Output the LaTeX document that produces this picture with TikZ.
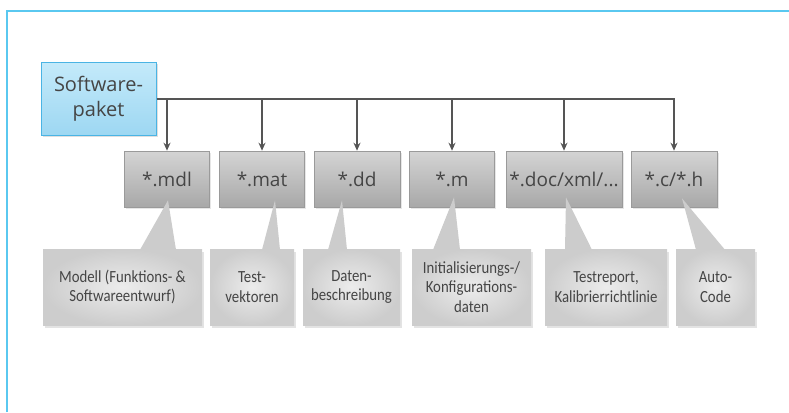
\documentclass[tikz,border=0pt]{standalone}
\usepackage{fontspec}
\setmainfont{Carlito}
\newfontfamily\lblfont[FakeStretch=0.87]{Carlito}
\newfontfamily\filefont{Open Sans}
\usetikzlibrary{shadows,arrows.meta,calc}
\definecolor{frameblue}{HTML}{5AC8F0}
\definecolor{swtop}{HTML}{C4EAFA}
\definecolor{swbot}{HTML}{9DD7F2}
\definecolor{swborder}{HTML}{4AB4E4}
\definecolor{filetop}{HTML}{D4D4D4}
\definecolor{filebot}{HTML}{A8A8A8}
\definecolor{fileborder}{HTML}{9A9A9A}
\definecolor{lblin}{HTML}{ECECEC}
\definecolor{lblout}{HTML}{CDCDCD}
\definecolor{ptrgray}{HTML}{CCCCCC}
\definecolor{txtgray}{HTML}{454545}
\definecolor{arrgray}{HTML}{555555}
\tikzset{
  swbox/.style={draw=swborder, line width=1pt, top color=swtop, bottom color=swbot,
    minimum width=115pt, minimum height=73pt, inner sep=0pt, align=center,
    font=\filefont\fontsize{20}{25}\selectfont, text=txtgray,
    drop shadow={opacity=0.25, shadow xshift=1.5pt, shadow yshift=-1.5pt}},
  filebox/.style={draw=fileborder, line width=0.6pt, top color=filetop, bottom color=filebot,
    minimum height=56pt, inner sep=0pt,
    font=\filefont\fontsize{19}{23}\selectfont, text=txtgray,
    drop shadow={opacity=0.2, shadow xshift=1.5pt, shadow yshift=-1.5pt}},
  lblbox/.style={inner color=lblin, outer color=lblout,
    minimum height=76pt, inner sep=0pt, align=center,
    font=\lblfont\fontsize{17}{19.5}\selectfont, text=txtgray,
    drop shadow={opacity=0.22, shadow xshift=2pt, shadow yshift=-3pt}},
  ptr/.style={fill=ptrgray},
  arr/.style={draw=arrgray, line width=2pt, -{Stealth[length=8pt,width=7pt]}},
  hline/.style={draw=arrgray, line width=2pt}
}
\begin{document}
\begin{tikzpicture}[x=1pt,y=-1pt]
\useasboundingbox (0,0) rectangle (789,412);
\draw[frameblue, line width=2pt] (7,412) -- (7,11) -- (789,11);

\node[swbox] (sw) at (98.5,99) {Software-\\paket};

\node[filebox, minimum width=85pt] (mdl) at (167,179) {*.mdl};
\node[filebox, minimum width=85pt] (mat) at (262,179) {*.mat};
\node[filebox, minimum width=86pt] (dd) at (357,179) {*.dd};
\node[filebox, minimum width=85pt] (mm) at (452,179) {*.m};
\node[filebox, minimum width=116pt] (doc) at (564,179) {*.doc/xml/...};
\node[filebox, minimum width=86pt] (ch) at (674,179) {*.c/*.h};

\draw[hline] (sw.east) -- (sw.east -| ch.north) coordinate (hend) -- ([yshift=1pt]hend);
\foreach \n in {mdl,mat,dd,mm,doc,ch}{
  \draw[arr] (sw.east -| \n.north) -- (\n.north);
}

\node[lblbox, minimum width=159pt] (l1) at (122.5,287) {Modell (Funktions- \&\\Softwareentwurf)};
\node[lblbox, minimum width=84pt] (l2) at (252,287) {Test-\\vektoren};
\node[lblbox, minimum width=97pt] (l3) at (351.5,287) {Daten-\\beschreibung};
\node[lblbox, minimum width=119pt] (l4) at (471.5,287) {Initialisierungs-/\\Konfigurations-\\daten};
\node[lblbox, minimum width=122pt] (l5) at (606,287) {Testreport,\\Kalibrierrichtlinie};
\node[lblbox, minimum width=79pt] (l6) at (715.5,287) {Auto-\\Code};

\fill[ptr] ($(mdl.south)+(1,-7)$) -- ($(l1.north)+(17.5,1)$) -- ($(l1.north)+(53.5,1)$) -- cycle;
\fill[ptr] ($(mat.south)+(13,-7)$) -- ($(l2.north)+(10,1)$) -- ($(l2.north)+(28,1)$) -- cycle;
\fill[ptr] ($(dd.south)+(-15,-7)$) -- ($(l3.north)+(-23.5,1)$) -- ($(l3.north)+(-4.5,1)$) -- cycle;
\fill[ptr] ($(mm.south)+(2,-10)$) -- ($(l4.north)+(-38.5,1)$) -- ($(l4.north)+(-11.5,1)$) -- cycle;
\fill[ptr] ($(doc.south)+(2,-10)$) -- ($(l5.north)+(-41,1)$) -- ($(l5.north)+(-14,1)$) -- cycle;
\fill[ptr] ($(ch.south)+(8,-9)$) -- ($(l6.north)+(-19.5,1)$) -- ($(l6.north)+(9.5,1)$) -- cycle;
\end{tikzpicture}
\end{document}
